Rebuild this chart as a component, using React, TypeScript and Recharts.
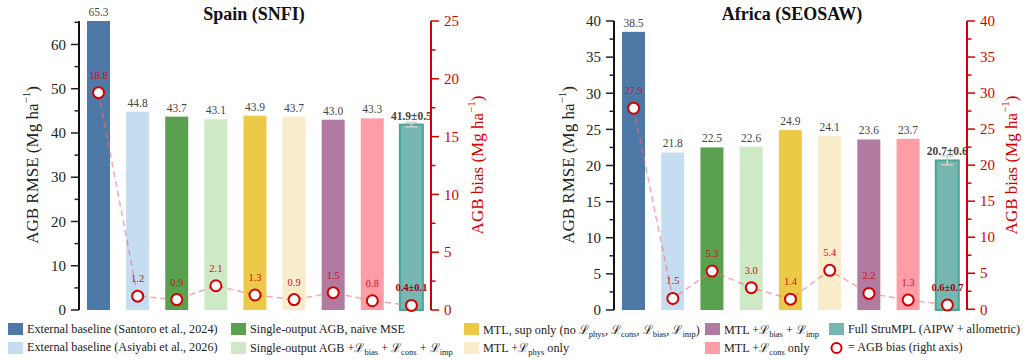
import React from "react"
import { Bar, ComposedChart, ErrorBar, Line, XAxis, YAxis } from "recharts"

const FONT = '"Liberation Serif", "Times New Roman", serif'

const METHODS = [
  "Santoro 2024",
  "Asiyabi 2026",
  "Single naive MSE",
  "Single + L",
  "MTL sup only",
  "MTL + phys",
  "MTL + bias + imp",
  "MTL + cons",
  "Full StruMPL",
]
const COLORS = ["#4e79a7", "#c6dcf0", "#59a14f", "#cde9c5", "#edc948", "#f9ecca", "#b07aa1", "#ff9da7", "#76b7b2"]

const SPAIN_RMSE = [65.3, 44.8, 43.7, 43.1, 43.9, 43.7, 43.0, 43.3, 41.9]
const SPAIN_BIAS = [18.8, 1.2, 0.9, 2.1, 1.3, 0.9, 1.5, 0.8, 0.4]
const SPAIN_RMSE_ERR = 0.5
const SPAIN_BIAS_ERR = 0.1

const AFRICA_RMSE = [38.5, 21.8, 22.5, 22.6, 24.9, 24.1, 23.6, 23.7, 20.7]
const AFRICA_BIAS = [27.9, 1.5, 5.3, 3.0, 1.4, 5.4, 2.2, 1.3, 0.6]
const AFRICA_RMSE_ERR = 0.6
const AFRICA_BIAS_ERR = 0.7

const SPAIN_RMSE_TICKS = [0, 5, 10, 15, 20, 25, 30, 35, 40, 45, 50, 55, 60, 65]
const SPAIN_BIAS_TICKS = [0, 2.5, 5, 7.5, 10, 12.5, 15, 17.5, 20, 22.5, 25]
const AFRICA_TICKS = [0, 2.5, 5, 7.5, 10, 12.5, 15, 17.5, 20, 22.5, 25, 27.5, 30, 32.5, 35, 37.5, 40]

const RED = "#d40000"

function buildRows(rmse: number[], bias: number[], rmseErr: number, biasErr: number) {
  return METHODS.map((name, i) => {
    const last = i === METHODS.length - 1
    return {
      name,
      rmse: rmse[i],
      bias: bias[i],
      color: COLORS[i],
      last,
      rmseErr: last ? rmseErr : undefined,
      biasErr: last ? biasErr : undefined,
      rmseLabel: last ? `${rmse[i].toFixed(1)}±${rmseErr}` : rmse[i].toFixed(1),
      biasLabel: last ? `${bias[i].toFixed(1)}±${biasErr}` : bias[i].toFixed(1),
    }
  })
}

const makeTick = (side: "left" | "right", color: string, major: number) => (props: any) => {
  const { x, y, payload } = props
  const v = payload.value
  const isMajor = Math.abs(v / major - Math.round(v / major)) < 1e-6
  const dir = side === "left" ? -1 : 1
  const len = isMajor ? 8 : 4.5
  return (
    <g>
      <line x1={x} x2={x + dir * len} y1={y} y2={y} stroke={color} strokeWidth={1.5} />
      {isMajor && (
        <text
          x={x + dir * 13}
          y={y}
          dy="0.35em"
          textAnchor={side === "left" ? "end" : "start"}
          fill={color}
          fontSize={15}
          fontFamily={FONT}
        >
          {v}
        </text>
      )}
    </g>
  )
}

const BarShape = (props: any) => {
  const { x, y, width, height, payload } = props
  return (
    <g>
      <rect
        x={x}
        y={y}
        width={width}
        height={height}
        fill={payload.color}
        stroke={payload.last ? "#4aa595" : "none"}
        strokeWidth={payload.last ? 2 : 0}
      />
      <text
        x={x + width / 2}
        y={y - 5}
        textAnchor="middle"
        fontSize={11.5}
        fontWeight={payload.last ? 700 : 400}
        fill="#444"
        fontFamily={FONT}
      >
        {payload.rmseLabel}
      </text>
    </g>
  )
}

const renderBiasDot = (props: any) => {
  const { cx, cy, payload, index } = props
  return (
    <g key={`dot-${index}`}>
      <circle cx={cx} cy={cy} r={5.5} fill="#fff" stroke={RED} strokeWidth={2} />
      <text
        x={cx}
        y={cy - 14}
        textAnchor="middle"
        fontSize={10.5}
        fontWeight={payload.last ? 700 : 400}
        fill={payload.last ? "#a0001a" : "#cc1020"}
        fontFamily={FONT}
      >
        {payload.biasLabel}
      </text>
    </g>
  )
}

function Panel({
  rows,
  left,
  width,
  leftAxisWidth,
  rightAxisWidth,
  rmseDomain,
  rmseTicks,
  rmseMajor,
  biasDomain,
  biasTicks,
}: {
  rows: any[]
  left: number
  width: number
  leftAxisWidth: number
  rightAxisWidth: number
  rmseDomain: [number, number]
  rmseTicks: number[]
  rmseMajor: number
  biasDomain: [number, number]
  biasTicks: number[]
}) {
  return (
    <div style={{ position: "absolute", left, top: 0 }}>
      <ComposedChart width={width} height={320} data={rows} margin={{ top: 21, right: 0, bottom: 10, left: 0 }}>
        <XAxis dataKey="name" tick={false} tickLine={false} height={0} axisLine={{ stroke: "#111", strokeWidth: 2 }} />
        <YAxis
          yAxisId="left"
          orientation="left"
          width={leftAxisWidth}
          domain={rmseDomain}
          ticks={rmseTicks}
          interval={0}
          tickSize={0}
          tickMargin={0}
          tickLine={false}
          axisLine={{ stroke: "#111", strokeWidth: 2 }}
          tick={makeTick("left", "#222", rmseMajor)}
        />
        <YAxis
          yAxisId="right"
          orientation="right"
          width={rightAxisWidth}
          domain={biasDomain}
          ticks={biasTicks}
          interval={0}
          tickSize={0}
          tickMargin={0}
          tickLine={false}
          axisLine={{ stroke: RED, strokeWidth: 2 }}
          tick={makeTick("right", RED, 5)}
        />
        <Bar yAxisId="left" dataKey="rmse" barSize={23} shape={BarShape} isAnimationActive={false}>
          <ErrorBar dataKey="rmseErr" width={6} stroke="#d0d0d0" strokeWidth={1.5} />
        </Bar>
        <Line
          yAxisId="right"
          dataKey="bias"
          stroke="#e56f80"
          strokeOpacity={0.6}
          strokeWidth={1.5}
          strokeDasharray="6 4"
          dot={renderBiasDot}
          activeDot={false}
          isAnimationActive={false}
        >
          <ErrorBar dataKey="biasErr" width={3} stroke="#b00010" strokeWidth={2} />
        </Line>
      </ComposedChart>
    </div>
  )
}

const L = ({ s }: { s: string }) => (
  <span>
    ℒ<sub style={{ fontSize: 8.5, verticalAlign: "-3px", lineHeight: 0 }}>{s}</sub>
  </span>
)

const LEGEND_LABELS: React.ReactNode[] = [
  "External baseline (Santoro et al., 2024)",
  "External baseline (Asiyabi et al., 2026)",
  "Single-output AGB, naive MSE",
  <>Single-output AGB +<L s="bias" /> + <L s="cons" /> + <L s="imp" /></>,
  <>MTL, sup only (no <L s="phys" />, <L s="cons" />, <L s="bias" />, <L s="imp" />)</>,
  <>MTL +<L s="phys" /> only</>,
  <>MTL +<L s="bias" /> + <L s="imp" /></>,
  <>MTL +<L s="cons" /> only</>,
  "Full StruMPL (AIPW + allometric)",
  "= AGB bias (right axis)",
]
const LEGEND_COLS = [8, 231, 464, 705, 829]
const LEGEND_ROWS = [329, 347.5]

function AxisTitle({ x, y, text, color }: { x: number; y: number; text: string; color: string }) {
  return (
    <text
      transform={`translate(${x},${y}) rotate(-90)`}
      textAnchor="middle"
      dominantBaseline="central"
      fontSize={17}
      fill={color}
      fontFamily={FONT}
    >
      {text} (Mg ha
      <tspan dy={-6} fontSize={11}>
        −1
      </tspan>
      <tspan dy={6}>)</tspan>
    </text>
  )
}

export default function App() {
  const spain = buildRows(SPAIN_RMSE, SPAIN_BIAS, SPAIN_RMSE_ERR, SPAIN_BIAS_ERR)
  const africa = buildRows(AFRICA_RMSE, AFRICA_BIAS, AFRICA_RMSE_ERR, AFRICA_BIAS_ERR)

  return (
    <div style={{ position: "absolute", left: 0, top: 0, width: 1028, height: 360, background: "#fff", fontFamily: FONT }}>
      <Panel
        rows={spain}
        left={0}
        width={520}
        leftAxisWidth={79}
        rightAxisWidth={89}
        rmseDomain={[0, 65.3]}
        rmseTicks={SPAIN_RMSE_TICKS}
        rmseMajor={10}
        biasDomain={[0, 25]}
        biasTicks={SPAIN_BIAS_TICKS}
      />
      <Panel
        rows={africa}
        left={520}
        width={508}
        leftAxisWidth={94}
        rightAxisWidth={61}
        rmseDomain={[0, 40]}
        rmseTicks={AFRICA_TICKS}
        rmseMajor={5}
        biasDomain={[0, 40]}
        biasTicks={AFRICA_TICKS}
      />
      <svg width={1028} height={320} style={{ position: "absolute", left: 0, top: 0, pointerEvents: "none" }}>
        <text x={254} y={20} textAnchor="middle" fontSize={18} fontWeight={700} fill="#111" fontFamily={FONT}>
          Spain (SNFI)
        </text>
        <text x={792} y={20} textAnchor="middle" fontSize={18} fontWeight={700} fill="#111" fontFamily={FONT}>
          Africa (SEOSAW)
        </text>
        <AxisTitle x={32} y={165} text="AGB RMSE" color="#222" />
        <AxisTitle x={477} y={165} text="AGB bias" color={RED} />
        <AxisTitle x={568} y={165} text="AGB RMSE" color="#222" />
        <AxisTitle x={1011} y={165} text="AGB bias" color={RED} />
      </svg>
      {LEGEND_LABELS.map((label, i) => {
        const col = Math.floor(i / 2)
        const row = i % 2
        const isMarker = i === LEGEND_LABELS.length - 1
        return (
          <div
            key={i}
            style={{
              position: "absolute",
              left: LEGEND_COLS[col],
              top: LEGEND_ROWS[row] - 8,
              height: 16,
              display: "flex",
              alignItems: "center",
              whiteSpace: "nowrap",
              fontSize: 12.2,
              fontFamily: FONT,
              color: "#222",
            }}
          >
            {isMarker ? (
              <svg width={15} height={14} style={{ marginRight: 4 }}>
                <circle cx={7.5} cy={7} r={5} fill="#fff" stroke={RED} strokeWidth={2} />
              </svg>
            ) : (
              <span style={{ display: "inline-block", width: 15, height: 12, background: COLORS[i], marginRight: 4 }} />
            )}
            <span>{label}</span>
          </div>
        )
      })}
    </div>
  )
}
